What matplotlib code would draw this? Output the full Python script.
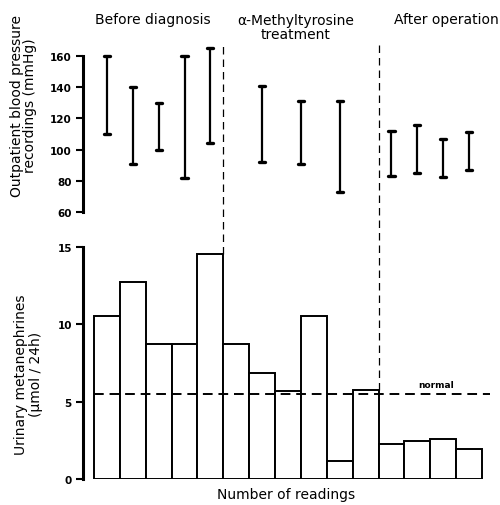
import matplotlib
matplotlib.use("Agg")
import matplotlib.pyplot as plt
import numpy as np

# Data
metanephrines = [10.5, 12.7, 8.7, 8.7, 14.5, 8.7, 6.85, 5.7, 10.5, 1.15, 5.75, 2.25, 2.45, 2.6, 1.95]
bp_positions = [0, 1, 2, 3, 4, 6, 7.5, 9, 11, 12, 13, 14]
bp_high = [160, 140, 130, 160, 165, 141, 131, 131, 112, 116, 107, 111]
bp_low = [110, 91, 100, 82, 104, 92, 91, 73, 83, 85, 82.5, 87]
normal_level = 5.5
group_boundaries = [4.5, 10.5]
group_labels = ["Before diagnosis", "\u03b1-Methyltyrosine\ntreatment", "After operation"]
bp_ticks = [60, 80, 100, 120, 140, 160]
met_ticks = [0, 5, 10, 15]

plt.rcParams['font.family'] = ['DejaVu Sans']
fig = plt.figure(figsize=(5.0, 5.06), dpi=100)

xl = (-0.925, 14.81)
ax1 = fig.add_axes([0.166, 0.579, 0.814, 0.332])
ax2 = fig.add_axes([0.166, 0.0514, 0.814, 0.4743])

# Top panel: ranges
for x, hi, lo in zip(bp_positions, bp_high, bp_low):
    ax1.plot([x, x], [lo, hi], color='black', lw=1.6, solid_capstyle='butt')
    for v in (lo, hi):
        ax1.plot([x - 0.12, x + 0.12], [v, v], color='black', lw=2.4, solid_capstyle='round')
ax1.set_xlim(*xl)
ax1.set_ylim(60, 167.7)
ax1.set_yticks(bp_ticks)
for s in ('top', 'right', 'bottom'):
    ax1.spines[s].set_visible(False)
ax1.spines['left'].set_bounds(60, 160)
ax1.spines['left'].set_linewidth(2.2)
ax1.set_xticks([])
ax1.tick_params(axis='y', length=5, width=1.5, labelsize=7.5, pad=3)
for t in ax1.get_yticklabels():
    t.set_fontweight('bold')
ax1.set_ylabel("Outpatient blood pressure\nrecordings (mmHg)", fontsize=10, linespacing=0.95)
ax1.yaxis.set_label_coords(-0.113, 0.637)

# Bottom panel: bars
xs = np.arange(len(metanephrines))
ax2.bar(xs, metanephrines, width=1.0, color='white', edgecolor='black', linewidth=1.4, zorder=2)
ax2.plot([-0.5, 14.8], [normal_level, normal_level], color='black', lw=1.4, ls=(0, (5, 3)), zorder=3)
ax2.text(12.72, 6.1, "normal", fontsize=6.5, fontweight='bold', ha='center', va='center')
tops = [max(metanephrines[int(b - 0.5)], metanephrines[int(b + 0.5)]) for b in group_boundaries]
for b, t in zip(group_boundaries, tops):
    ax2.plot([b, b], [t, 28.0], color='black', lw=0.9, ls=(0, (6, 4)), clip_on=False, zorder=3)
ax2.set_xlim(*xl)
ax2.set_ylim(0, 15.5)
ax2.set_yticks(met_ticks)
for s in ('top', 'right', 'bottom'):
    ax2.spines[s].set_visible(False)
ax2.spines['left'].set_bounds(0, 15)
ax2.spines['left'].set_linewidth(2.2)
ax2.set_xticks([])
ax2.tick_params(axis='y', length=5, width=1.5, labelsize=7.5, pad=3)
for t in ax2.get_yticklabels():
    t.set_fontweight('bold')
ax2.set_ylabel("Urinary metanephrines\n(\u03bcmol / 24h)", fontsize=10, linespacing=1.1)
ax2.yaxis.set_label_coords(-0.098, 0.44)
ax2.set_xlabel("Number of readings", fontsize=10, labelpad=6)
ax2.xaxis.set_label_coords(0.5, -0.035)

# Group labels
fig.text(153 / 500, 1 - 20 / 506, group_labels[0], fontsize=10, ha='center', va='center')
fig.text(296 / 500, 1 - 28 / 506, group_labels[1], fontsize=10, ha='center', va='center', linespacing=0.95)
fig.text(446 / 500, 1 - 20 / 506, group_labels[2], fontsize=10, ha='center', va='center')

fig.savefig("out.png", dpi=100)
